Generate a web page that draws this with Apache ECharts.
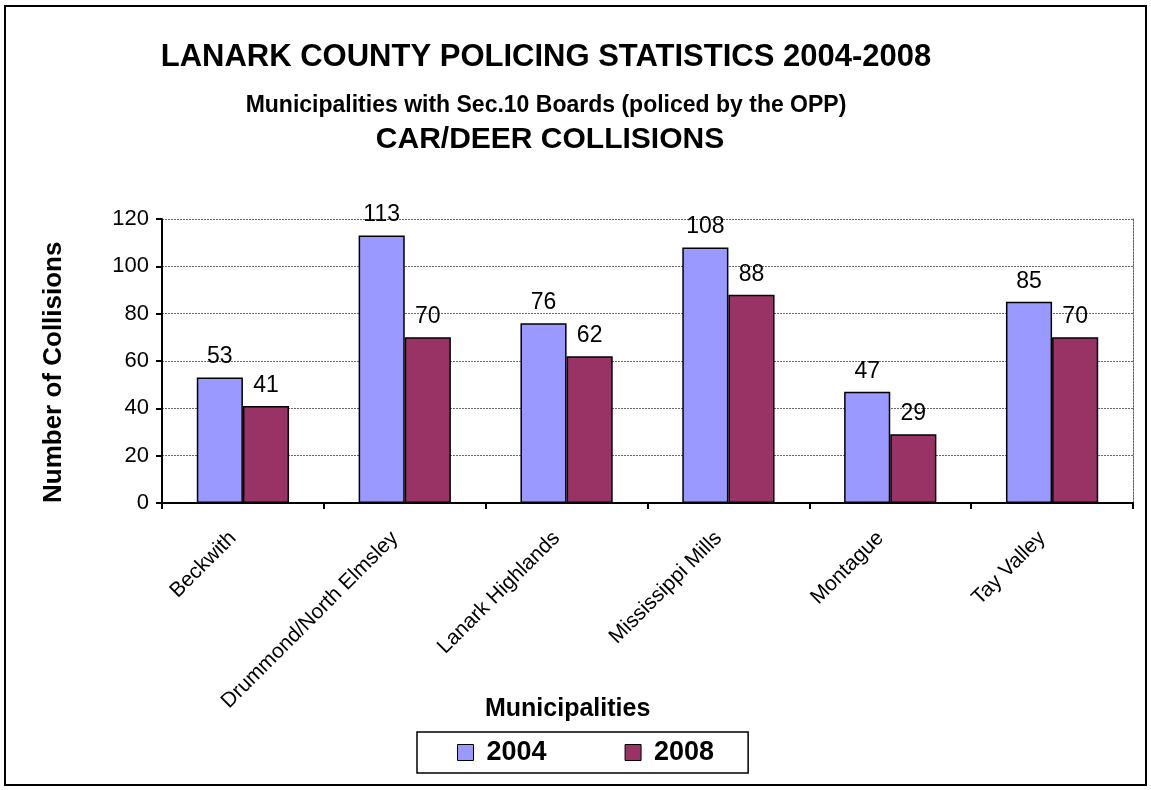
<!DOCTYPE html>
<html>
<head>
<meta charset="utf-8">
<script src="https://cdn.jsdelivr.net/npm/echarts@6/dist/echarts.min.js"></script>
<style>
  html, body { margin: 0; padding: 0; background: #fff; }
  #chart { width: 1151px; height: 790px; }
</style>
</head>
<body>
<div id="chart"></div>
<script>
var municipalities = ['Beckwith', 'Drummond/North Elmsley', 'Lanark Highlands', 'Mississippi Mills', 'Montague', 'Tay Valley'];
var values2004 = [53, 113, 76, 108, 47, 85];
var values2008 = [41, 70, 62, 88, 29, 70];
var yTicks = [0, 20, 40, 60, 80, 100, 120];

var font = 'Arial, "Liberation Sans", sans-serif';
var chart = echarts.init(document.getElementById('chart'));

chart.setOption({
  backgroundColor: '#fff',
  textStyle: { fontFamily: font, color: '#000' },
  title: [
    { text: 'LANARK COUNTY POLICING STATISTICS 2004-2008', left: 541, top: 37, textAlign: 'center',
      textStyle: { fontSize: 31, fontWeight: 'bold', fontFamily: font, color: '#000' } },
    { text: 'Municipalities with Sec.10 Boards (policed by the OPP)', left: 541, top: 89, textAlign: 'center',
      textStyle: { fontSize: 23, fontWeight: 'bold', fontFamily: font, color: '#000' } },
    { text: 'CAR/DEER COLLISIONS', left: 545, top: 120, textAlign: 'center',
      textStyle: { fontSize: 30, fontWeight: 'bold', fontFamily: font, color: '#000' } }
  ],
  graphic: [
    { type: 'rect', shape: { x: 5, y: 6, width: 1141, height: 779 },
      style: { fill: 'none', stroke: '#000', lineWidth: 2 }, silent: true },
    { type: 'text', left: 485, top: 697,
      style: { text: 'Municipalities', font: 'bold 25px ' + font, fill: '#000' } },
    { type: 'text', rotation: Math.PI / 2, x: 41, y: 503,
      style: { text: 'Number of Collisions', font: 'bold 26px ' + font, fill: '#000' } }
  ],
  legend: {
    data: ['2004', '2008'],
    left: 417, top: 732,
    padding: [7, 34, 7, 40],
    itemGap: 78,
    itemWidth: 16, itemHeight: 16,
    borderColor: '#000', borderWidth: 1.5,
    icon: 'rect',
    itemStyle: { borderColor: '#000', borderWidth: 1 },
    textStyle: { fontSize: 27, fontWeight: 'bold', fontFamily: font, color: '#000', padding: [0, 0, 0, 8] }
  },
  grid: { left: 162, right: 18, top: 219, bottom: 287 },
  xAxis: {
    type: 'category',
    data: municipalities,
    axisLine: { lineStyle: { color: '#000', width: 2 } },
    axisTick: { show: true, inside: false, length: 6, interval: 0, lineStyle: { color: '#000', width: 2 } },
    axisLabel: { rotate: 45, interval: 0, fontSize: 21, color: '#000', fontFamily: font, margin: 22,
      padding: [0, 14, 0, 0] }
  },
  yAxis: [{
    type: 'value',
    min: 0, max: 120, interval: 20,
    axisLine: { show: true, lineStyle: { color: '#000', width: 2 } },
    axisTick: { show: true, length: 6, lineStyle: { color: '#000', width: 2 } },
    axisLabel: { fontSize: 22, color: '#000', fontFamily: font, margin: 13,
      formatter: function (v) { return yTicks.indexOf(v) >= 0 ? String(v) : ''; } },
    splitLine: { show: true, lineStyle: { color: '#666', width: 1, type: [2, 1] } }
  }, {
    type: 'value', position: 'right',
    min: 0, max: 120, interval: 20,
    axisLine: { show: true, lineStyle: { color: '#666', width: 1, type: [2, 1] } },
    axisTick: { show: false }, axisLabel: { show: false }, splitLine: { show: false }
  }],
  series: [
    { name: '2004', type: 'bar', data: values2004, barGap: '0%', barCategoryGap: '43%',
      itemStyle: { color: '#9999FF', borderColor: '#000', borderWidth: 1.5 },
      label: { show: true, position: 'top', distance: 9, fontSize: 23, color: '#000', fontFamily: font } },
    { name: '2008', type: 'bar', data: values2008,
      itemStyle: { color: '#993366', borderColor: '#000', borderWidth: 1.5 },
      label: { show: true, position: 'top', distance: 9, fontSize: 23, color: '#000', fontFamily: font } }
  ]
});
</script>
</body>
</html>
